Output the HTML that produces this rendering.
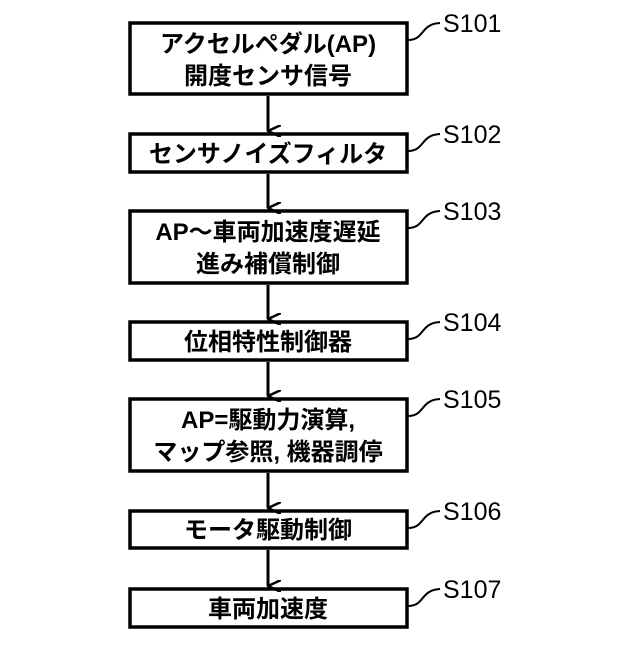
<!DOCTYPE html>
<html><head><meta charset="utf-8"><style>
html,body{margin:0;padding:0;background:#fff;}
</style></head><body>
<svg width="640" height="640" viewBox="0 0 640 640" xmlns="http://www.w3.org/2000/svg" font-family="Liberation Sans, Noto Sans CJK JP, sans-serif" font-weight="bold">
<defs><marker id="a" markerWidth="12" markerHeight="14" refX="6" refY="13" orient="auto" markerUnits="userSpaceOnUse"><path d="M0,0 L6,13 L12,0" fill="none" stroke="#000" stroke-width="2.5"/></marker></defs>
<g fill="#fff" stroke="#000" stroke-width="3.5">
<rect x="130" y="23" width="277" height="71"/>
<rect x="130" y="134" width="277" height="38"/>
<rect x="130" y="211" width="277" height="72"/>
<rect x="130" y="322" width="277" height="38"/>
<rect x="130" y="399" width="277" height="72"/>
<rect x="130" y="511" width="277" height="37"/>
<rect x="130" y="589" width="277" height="38"/>
</g>
<g stroke="#000" stroke-width="3" marker-end="url(#a)">
<line x1="268" y1="96" x2="268" y2="131"/>
<line x1="268" y1="174" x2="268" y2="208"/>
<line x1="268" y1="285" x2="268" y2="319"/>
<line x1="268" y1="362" x2="268" y2="396"/>
<line x1="268" y1="473" x2="268" y2="508"/>
<line x1="268" y1="550" x2="268" y2="586"/>
</g>
<g fill="none" stroke="#000" stroke-width="2">
<path d="M408,40 C425,40 420,24 440,23"/>
<path d="M408,151 C425,151 420,135 440,134"/>
<path d="M408,228 C425,228 420,212 440,211"/>
<path d="M408,339 C425,339 420,323 440,322"/>
<path d="M408,416 C425,416 420,400 440,399"/>
<path d="M408,528 C425,528 420,512 440,511"/>
<path d="M408,606 C425,606 420,590 440,589"/>
</g>
<g font-size="25" font-weight="normal" fill="#000">
<text x="443" y="32">S101</text>
<text x="443" y="143">S102</text>
<text x="443" y="220">S103</text>
<text x="443" y="331">S104</text>
<text x="443" y="408">S105</text>
<text x="443" y="520">S106</text>
<text x="443" y="598">S107</text>
</g>
<g font-size="24" text-anchor="middle" fill="#000">
<text x="268" y="52">アクセルペダル(AP)</text>
<text x="268" y="84">開度センサ信号</text>
<text x="268" y="162">センサノイズフィルタ</text>
<text x="268" y="240">AP〜車両加速度遅延</text>
<text x="268" y="272">進み補償制御</text>
<text x="268" y="350">位相特性制御器</text>
<text x="268" y="428">AP=駆動力演算,</text>
<text x="268" y="460">マップ参照, 機器調停</text>
<text x="268" y="538">モータ駆動制御</text>
<text x="268" y="617">車両加速度</text>
</g>
</svg>
</body></html>
